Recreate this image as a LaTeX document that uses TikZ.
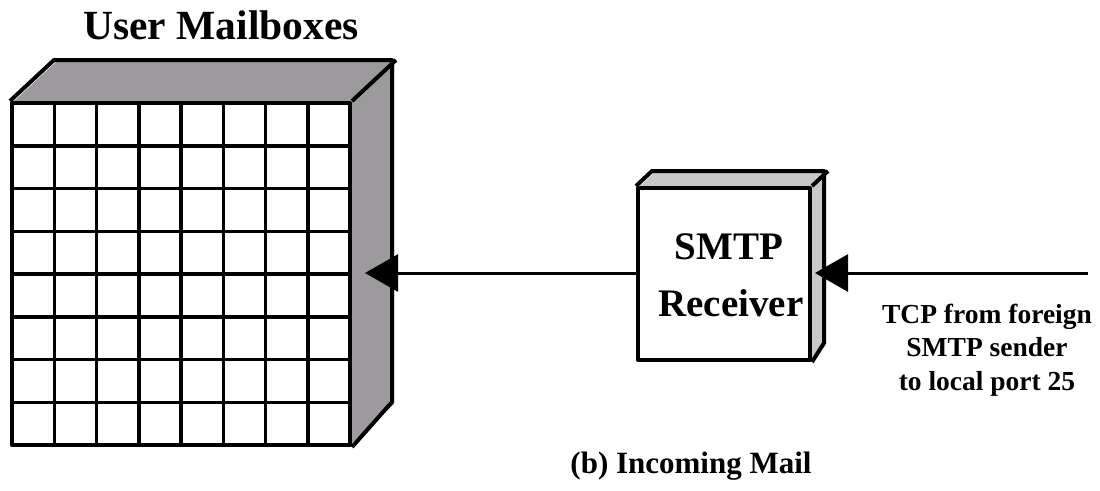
\documentclass[tikz,border=0pt]{standalone}
\usepackage{fontspec}
\setmainfont{Liberation Serif}
\usetikzlibrary{arrows.meta}
\definecolor{darkface}{HTML}{9C9A9C}
\definecolor{lightface}{HTML}{C8C8C8}
\tikzset{
  edge/.style={line width=4pt, line join=round},
  gridline/.style={line width=3.5pt},
  conn/.style={line width=3pt, -{Triangle[length=33pt,width=37pt]}},
  lbl/.style={inner sep=0pt, anchor=base, align=center},
}
\begin{document}
\begin{tikzpicture}[x=1pt,y=-1pt]
\useasboundingbox[fill=white] (0,0) rectangle (1100,490);
% mailbox 3D faces
\fill[darkface] (12,103) -- (56,62) -- (394,62) -- (350,103) -- cycle;
\fill[darkface] (350,103) -- (394,62) -- (394,404) -- (350,445) -- cycle;
\node[draw, edge, fill=white, minimum width=338pt, minimum height=342pt, inner sep=0pt] (mb) at (181,274) {};
\foreach \i in {1,...,7} {
  \draw[gridline] (12+42.25*\i,103) -- (12+42.25*\i,445);
  \draw[gridline] (12,103+42.75*\i) -- (350,103+42.75*\i);
}
\draw[edge] (mb.north west) -- ++(44,-41) -- ++(338,0) -- ++(0,342) -- (mb.south east);
\draw[edge] (mb.north east) -- ++(44,-41);
\node[lbl] (title) at (221,39) {\bfseries\fontsize{41.5}{44}\selectfont User Mailboxes};
% SMTP receiver box
\fill[lightface] (638,188) -- (654,173) -- (826,173) -- (810,188) -- cycle;
\fill[lightface] (810,188) -- (826,173) -- (826,345) -- (810,360) -- cycle;
\node[draw, edge, fill=white, minimum width=172pt, minimum height=172pt, inner sep=0pt] (smtp) at (724,274) {};
\draw[edge] (smtp.north west) -- ++(16,-15) -- ++(172,0) -- ++(0,172) -- (smtp.south east);
\draw[edge] (smtp.north east) -- ++(16,-15);
\node[lbl] (smtpA) at (729,259) {\bfseries\fontsize{39}{42}\selectfont SMTP};
\node[lbl] (smtpB) at (731,316) {\bfseries\fontsize{39}{42}\selectfont Receiver};
% connectors
\coordinate (mbin) at (365,273);
\coordinate (smtpin) at (815,273);
\coordinate (src) at (1088,273);
\draw[conn] (smtp.west |- mbin) -- (mbin);
\draw[conn] (src) -- (smtpin);
% labels
\node[lbl] (tcpA) at (987,323) {\bfseries\fontsize{27.5}{30}\selectfont TCP from foreign};
\node[lbl] (tcpB) at (987,356) {\bfseries\fontsize{27.5}{30}\selectfont SMTP sender};
\node[lbl] (tcpC) at (987,390) {\bfseries\fontsize{27.5}{30}\selectfont to local port 25};
\node[lbl] (cap) at (691,473) {\bfseries\fontsize{31}{34}\selectfont (b) Incoming Mail};
\end{tikzpicture}
\end{document}
